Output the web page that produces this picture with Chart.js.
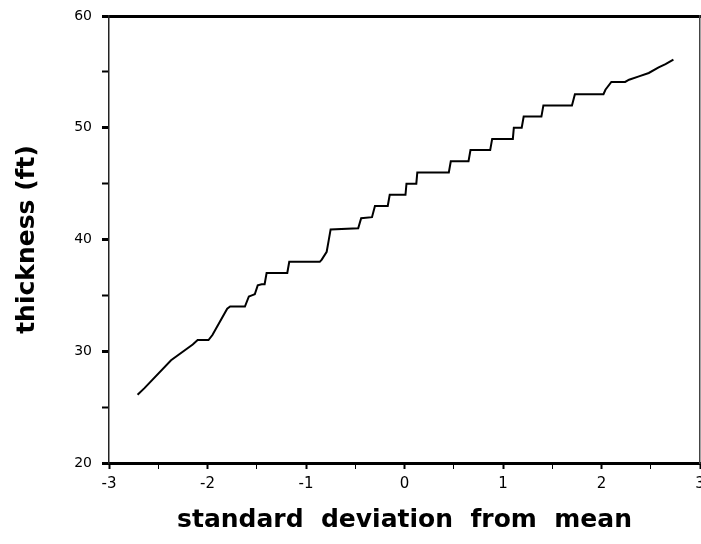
<!DOCTYPE html>
<html lang="en">
<head>
  <meta charset="UTF-8">
  <title>Thickness vs standard deviation from mean</title>
  <script src="https://cdn.jsdelivr.net/npm/chart.js"></script>
  <style>
    body { margin: 0; background: #fff; }
    .chart-container { position: relative; width: 701px; height: 544px; }
  </style>
</head>
<body>
  <div class="chart-container">
    <canvas id="chart_thickness"></canvas>
  </div>

<script>
  // normal score (standard deviations from the mean) of each sorted value
  const deviations = [
    -2.71, -2.64, -2.37, -2.15, -2.10, -1.99, -1.95, -1.80, -1.77, -1.62,
    -1.58, -1.55, -1.52, -1.49, -1.45, -1.42, -1.40, -1.19, -1.17, -0.86,
    -0.84, -0.79, -0.77, -0.75, -0.47, -0.44, -0.33, -0.30, -0.17, -0.15,
    0.01, 0.02, 0.12, 0.13, 0.45, 0.47, 0.65, 0.67, 0.87, 0.89,
    1.10, 1.11, 1.19, 1.21, 1.39, 1.41, 1.70, 1.73, 2.02, 2.04,
    2.10, 2.24, 2.28, 2.38, 2.48, 2.58, 2.65, 2.73
  ];

  // thickness in feet
  const thickness = [
    26.1, 26.7, 29.2, 30.6, 31.0, 31.0, 31.45, 33.8, 34.0, 34.0,
    34.9, 35.0, 35.1, 35.9, 36.0, 36.0, 37.0, 37.0, 38.0, 38.0,
    38.2, 38.9, 39.9, 40.9, 41.0, 41.9, 42.0, 43.0, 43.0, 44.0,
    44.0, 45.0, 45.0, 46.0, 46.0, 47.0, 47.0, 48.0, 48.0, 49.0,
    49.0, 50.0, 50.0, 51.0, 51.0, 52.0, 52.0, 53.0, 53.0, 53.4,
    54.1, 54.1, 54.3, 54.6, 54.9, 55.4, 55.7, 56.1
  ];

  const xRange = [-3, 3];
  const yRange = [20, 60];

  const pontos = deviations.map((d, i) => ({ x: d, y: thickness[i] }));

  // keep the plot area fixed, labels at the edges may overflow like the original
  function semPadding(scale) {
    scale.paddingLeft = 0;
    scale.paddingRight = 0;
    scale.paddingTop = 0;
    scale.paddingBottom = 0;
  }

  const ctx = document.getElementById('chart_thickness').getContext('2d');

  new Chart(ctx, {
    type: 'scatter',
    data: {
      datasets: [{
        data: pontos,
        showLine: true,
        borderColor: '#000',
        borderWidth: 2,
        pointRadius: 0,
        tension: 0
      }]
    },
    options: {
      responsive: true,
      maintainAspectRatio: false,
      animation: false,
      layout: { padding: 0 },
      plugins: {
        legend: { display: false },
        tooltip: { enabled: false }
      },
      scales: {
        x: {
          type: 'linear',
          position: 'bottom',
          min: xRange[0],
          max: xRange[1],
          afterFit: (scale) => { scale.height = 81; semPadding(scale); },
          border: { display: true, color: '#000', width: 3 },
          grid: {
            display: true,
            drawOnChartArea: false,
            drawTicks: true,
            tickLength: 6,
            tickColor: '#000',
            tickWidth: (c) => Number.isInteger(c.tick.value) ? 2 : 1
          },
          ticks: {
            stepSize: 0.5,
            autoSkip: false,
            maxRotation: 0,
            padding: 6,
            color: '#000',
            font: { family: 'DejaVu Sans', size: 15 },
            callback: (v) => Number.isInteger(v) ? v : ''
          },
          title: {
            display: true,
            text: 'standard  deviation  from  mean',
            color: '#000',
            font: { family: 'DejaVu Sans', size: 25, weight: 'bold' },
            padding: { top: 0, bottom: 9 }
          }
        },
        xTop: {
          type: 'linear',
          position: 'top',
          min: xRange[0],
          max: xRange[1],
          afterFit: (scale) => { scale.height = 16; semPadding(scale); },
          border: { display: true, color: '#000', width: 3 },
          grid: { display: false },
          ticks: { display: false }
        },
        y: {
          type: 'linear',
          position: 'left',
          min: yRange[0],
          max: yRange[1],
          afterFit: (scale) => { scale.width = 109; semPadding(scale); },
          border: { display: true, color: '#222', width: 1.5, dash: [1, 2] },
          grid: {
            display: true,
            drawOnChartArea: false,
            drawTicks: true,
            tickLength: 7,
            tickColor: '#000',
            tickWidth: (c) => c.tick.value % 10 === 0 ? 3 : 2
          },
          ticks: {
            stepSize: 5,
            autoSkip: false,
            padding: 10,
            color: '#000',
            font: { family: 'DejaVu Sans', size: 14 },
            callback: (v) => v % 10 === 0 ? v : ''
          },
          title: {
            display: true,
            text: 'thickness (ft)',
            color: '#000',
            font: { family: 'DejaVu Sans', size: 25, weight: 'bold' },
            padding: { top: 12, bottom: 0 }
          }
        },
        yRight: {
          type: 'linear',
          position: 'right',
          min: yRange[0],
          max: yRange[1],
          afterFit: (scale) => { scale.width = 1; semPadding(scale); },
          border: { display: true, color: '#444', width: 1.5, dash: [1, 3] },
          grid: { display: false },
          ticks: { display: false }
        }
      }
    }
  });
</script>
</body>
</html>
